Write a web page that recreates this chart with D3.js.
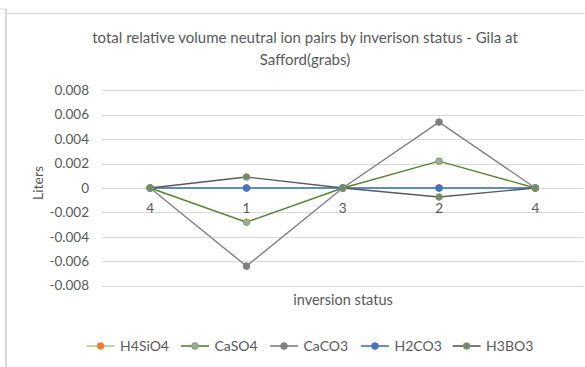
<!DOCTYPE html>
<html><head><meta charset="utf-8">
<script src="https://cdn.jsdelivr.net/npm/d3@7"></script>
<style>body{margin:0;background:#fff}svg{display:block}text{font-family:Lato,"Open Sans",sans-serif}</style>
</head><body>
<script>
const categories = ["4","1","3","2","4"];
const seriesNames = ["H4SiO4","CaSO4","CaCO3","H2CO3","H3BO3"];
const H4SiO4 = [0, 0, 0, 0, 0];
const CaSO4 = [0, -0.0028, 0, 0.0022, 0];
const CaCO3 = [0, -0.0064, 0, 0.0054, 0];
const H2CO3 = [0, 0, 0, 0, 0];
const H3BO3 = [0, 0.0009, 0, -0.00074, 0];
const yTicks = [-0.008,-0.006,-0.004,-0.002,0,0.002,0.004,0.006,0.008];
const yTickLabels = ["-0.008","-0.006","-0.004","-0.002","0","0.002","0.004","0.006","0.008"];
const titleLines = ["total relative volume neutral ion pairs by inverison status - Gila at","Safford(grabs)"];

const styles = [
  {line:"#a9d18e", fill:"#ed7d31", stroke:"#ed7d31"},
  {line:"#548235", fill:"#a5a5a5", stroke:"#70ad47"},
  {line:"#7f7f7f", fill:"#7f7f7f", stroke:"#7f7f7f"},
  {line:"#4472c4", fill:"#4472c4", stroke:"#4472c4"},
  {line:"#595959", fill:"#7f7f7f", stroke:"#70ad47"}
];
const data = [H4SiO4, CaSO4, CaCO3, H2CO3, H3BO3];

const W = 585, H = 367;
const svg = d3.select("body").append("svg").attr("width", W).attr("height", H);

// frame
svg.append("line").attr("x1",6).attr("x2",6).attr("y1",9).attr("y2",H).attr("stroke","#d9d9d9").attr("stroke-width",2);
svg.append("line").attr("x1",0).attr("x2",6).attr("y1",9).attr("y2",9).attr("stroke","#d9d9d9").attr("stroke-width",1);
svg.append("line").attr("x1",7).attr("x2",W).attr("y1",13.5).attr("y2",13.5).attr("stroke","#d9d9d9").attr("stroke-width",1);

const x = d3.scalePoint().domain(d3.range(categories.length)).range([102, 583.5]).padding(0.5);
const y = d3.scaleLinear().domain([-0.008, 0.008]).range([285.7, 90.3]);

// gridlines
svg.append("g").selectAll("line").data(yTicks).join("line")
  .attr("x1",102).attr("x2",583.5)
  .attr("y1",d=>Math.round(y(d))+0.5).attr("y2",d=>Math.round(y(d))+0.5)
  .attr("stroke","#d9d9d9").attr("stroke-width",1);

// y tick labels
svg.append("g").selectAll("text").data(yTicks).join("text")
  .attr("x",89).attr("y",d=>y(d)).attr("dy","0.35em")
  .attr("text-anchor","end").attr("fill","#595959").attr("font-size",13.5)
  .text((d,i)=>yTickLabels[i]);

// category labels
svg.append("g").selectAll("text").data(categories).join("text")
  .attr("x",(d,i)=>x(i)).attr("y",208).attr("dy","0.35em")
  .attr("text-anchor","middle").attr("fill","#595959").attr("font-size",13.5)
  .text(d=>d);

// title
svg.append("g").selectAll("text").data(titleLines).join("text")
  .attr("x",305).attr("y",(d,i)=>37.3+i*22).attr("dy","0.35em")
  .attr("text-anchor","middle").attr("fill","#595959").attr("font-size",15)
  .text(d=>d);

// axis titles
svg.append("text").attr("transform","translate(38,183) rotate(-90)").attr("dy","0.35em")
  .attr("text-anchor","middle").attr("fill","#595959").attr("font-size",14).text("Liters");
svg.append("text").attr("x",343).attr("y",300).attr("dy","0.35em")
  .attr("text-anchor","middle").attr("fill","#595959").attr("font-size",14.5).text("inversion status");

// series
const line = d3.line().x((d,i)=>x(i)).y(d=>y(d));
data.forEach((vals,si)=>{
  const g = svg.append("g");
  g.append("path").datum(vals).attr("d",line).attr("fill","none")
    .attr("stroke",styles[si].line).attr("stroke-width",1.4);
  g.selectAll("circle").data(vals).join("circle")
    .attr("cx",(d,i)=>x(i)).attr("cy",d=>y(d)).attr("r",3.3)
    .attr("fill",styles[si].fill).attr("stroke",styles[si].stroke).attr("stroke-width",1);
});

// legend
const legX = [86.6, 181, 270, 361, 452.6];
const leg = svg.append("g");
seriesNames.forEach((n,i)=>{
  const g = leg.append("g").attr("transform",`translate(${legX[i]},346)`);
  g.append("line").attr("x1",0).attr("x2",28).attr("y1",0).attr("y2",0)
    .attr("stroke",styles[i].line).attr("stroke-width",1.6);
  g.append("circle").attr("cx",14).attr("cy",0).attr("r",3.3)
    .attr("fill",styles[i].fill).attr("stroke",styles[i].stroke).attr("stroke-width",1);
  g.append("text").attr("x",33.5).attr("y",0).attr("dy","0.35em")
    .attr("fill","#595959").attr("font-size",14).text(n);
});
</script>
</body></html>
